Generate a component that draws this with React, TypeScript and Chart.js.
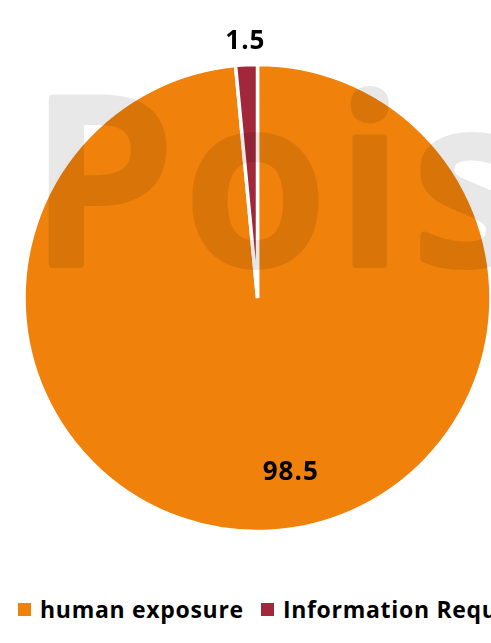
import { useEffect, useRef } from 'react';
import { Chart, ArcElement, PieController, Plugin } from 'chart.js';

Chart.register(PieController, ArcElement);

const categories = ['human exposure', 'Information Request'];
const shares = [98.5, 1.5];
const sliceColors = ['#F0810A', '#A1283A'];
const watermarkText = 'Pois';

const watermarkPlugin: Plugin<'pie'> = {
  id: 'watermark',
  afterDatasetsDraw(chart) {
    const { ctx } = chart;
    const dpr = chart.currentDevicePixelRatio;
    const off = document.createElement('canvas');
    off.width = chart.canvas.width;
    off.height = chart.canvas.height;
    const o = off.getContext('2d');
    if (!o) return;
    o.scale(dpr, dpr);
    o.font = '600 232px "Open Sans"';
    (o as any).letterSpacing = '11px';
    o.fillStyle = '#000';
    o.strokeStyle = '#000';
    o.lineWidth = 8;
    o.lineJoin = 'round';
    o.fillText(watermarkText, 31, 264);
    o.strokeText(watermarkText, 31, 264);
    ctx.save();
    ctx.setTransform(1, 0, 0, 1, 0, 0);
    ctx.globalAlpha = 0.09;
    ctx.drawImage(off, 0, 0);
    ctx.restore();
  },
};

const sliceLabelPlugin: Plugin<'pie'> = {
  id: 'sliceLabels',
  afterDatasetsDraw(chart) {
    const { ctx } = chart;
    const total = shares.reduce((a, b) => a + b, 0);
    const meta = chart.getDatasetMeta(0);
    ctx.save();
    ctx.font = 'bold 26px "Open Sans"';
    (ctx as any).letterSpacing = '1px';
    ctx.fillStyle = '#000';
    ctx.textAlign = 'center';
    ctx.textBaseline = 'middle';
    meta.data.forEach((el, i) => {
      const { x, y, startAngle, endAngle, outerRadius } = (el as any).getProps(
        ['x', 'y', 'startAngle', 'endAngle', 'outerRadius'],
        true
      );
      const mid = (startAngle + endAngle) / 2;
      const small = shares[i] / total < 0.05;
      const r = small ? outerRadius + 23 : outerRadius * 0.75;
      const dx = small ? 0 : 25;
      ctx.fillText(String(shares[i]), x + Math.cos(mid) * r + dx, y + Math.sin(mid) * r);
    });
    ctx.restore();
  },
};

export default function App() {
  const canvasRef = useRef<HTMLCanvasElement>(null);
  const chartRef = useRef<Chart | null>(null);

  useEffect(() => {
    if (!canvasRef.current) return;
    if (chartRef.current) chartRef.current.destroy();
    chartRef.current = new Chart(canvasRef.current, {
      type: 'pie',
      data: {
        labels: categories,
        datasets: [
          {
            data: shares,
            backgroundColor: sliceColors,
            borderColor: '#fff',
            borderWidth: 3.5,
            radius: 233.5,
          },
        ],
      },
      options: {
        animation: false,
        responsive: true,
        maintainAspectRatio: false,
        layout: { padding: { left: 1, right: 0, top: 6, bottom: 0 } },
        plugins: {
          legend: { display: false },
          tooltip: { enabled: false },
        },
      },
      plugins: [watermarkPlugin, sliceLabelPlugin],
    });
    return () => {
      if (chartRef.current) {
        chartRef.current.destroy();
        chartRef.current = null;
      }
    };
  }, []);

  return (
    <div
      style={{
        position: 'absolute',
        left: 0,
        top: 0,
        width: 491,
        height: 643,
        overflow: 'hidden',
        background: '#fff',
      }}
    >
      <div style={{ position: 'absolute', left: 0, top: 0, width: 514, height: 590 }}>
        <canvas ref={canvasRef}></canvas>
      </div>
      <div
        style={{
          position: 'absolute',
          left: 18,
          top: 594,
          display: 'flex',
          alignItems: 'center',
          whiteSpace: 'nowrap',
          fontFamily: '"Open Sans", sans-serif',
          fontWeight: 700,
          fontSize: 23,
          lineHeight: '31px',
          letterSpacing: '0.7px',
          color: '#000',
        }}
      >
        {categories.map((c, i) => (
          <span key={c} style={{ display: 'flex', alignItems: 'center', marginRight: 17 }}>
            <span
              style={{
                display: 'inline-block',
                width: 13,
                height: 13,
                background: sliceColors[i],
                marginRight: 9,
              }}
            ></span>
            {c}
          </span>
        ))}
      </div>
    </div>
  );
}
